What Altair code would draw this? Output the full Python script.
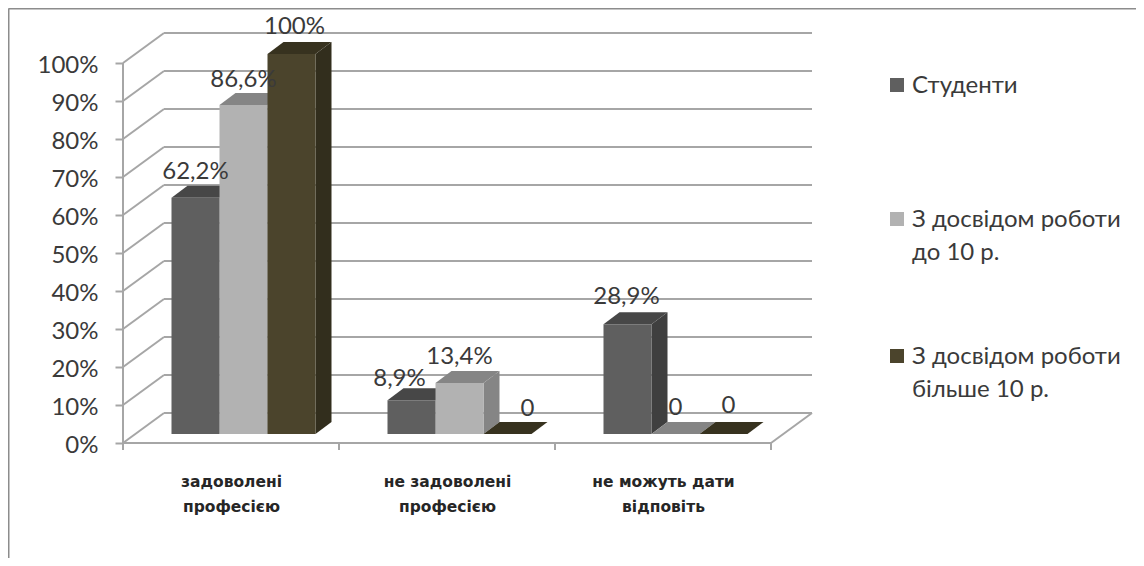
import altair as alt
import pandas as pd

categories = [["задоволені", "професією"], ["не задоволені", "професією"], ["не можуть дати", "відповіть"]]
series_names = ["Студенти", "З досвідом роботи\nдо 10 р.", "З досвідом роботи\nбільше 10 р."]
students = [62.2, 8.9, 28.9]
junior = [86.6, 13.4, 0]
senior = [100, 0, 0]
label_students = ["62,2%", "8,9%", "28,9%"]
label_junior = ["86,6%", "13,4%", "0"]
label_senior = ["100%", "0", "0"]

# palette: front, top, side
palette = [("#5f5f5f", "#474747", "#3f3f3f"), ("#b2b2b2", "#858585", "#858585"), ("#4b442c", "#37321f", "#322e1d")]
GRID = "#a6a6a6"
TXT = "#3a3a3a"
FONT = "Lato"

# layout: pixels per data unit
PX_CAT = 216.0
PX_PCT = 3.8
W, H = 689, 410
PAD = {"left": 115, "top": 25, "right": 324, "bottom": 115}
def cx(px): return px / PX_CAT
def py(px): return px / PX_PCT
WALL_DX, WALL_DY = cx(41), py(30)
BAR_X0, BAR_W = cx(48.5), cx(48)
BAR_BASE = py(9)
BAR_DX, BAR_DY = cx(16), py(12)
# label nudges in pixels (dx, dy above the top of the front face), by category then series
nudges = [[(0, 26), (0, 25), (3, 27)], [(-12, 21), (0, 26), (20, 25)], [(-1, 27), (0, 26), (5, 28)]]

xs = alt.X("x:Q", scale=alt.Scale(domain=[0, W / PX_CAT], nice=False, zero=False), title=None,
           axis=alt.Axis(values=[0.5, 1.5, 2.5], tickSize=0, domain=False, grid=False, labelAngle=0,
                         labelPadding=31, labelFont="DejaVu Sans", labelFontSize=15.5, labelFontWeight="bold",
                         labelColor="#262626", labelLineHeight=25, labelBaseline="top",
                         labelExpr="[" + ",".join(str(c) for c in categories) + "][floor(datum.value)]"))
ys = alt.Y("y:Q", scale=alt.Scale(domain=[0, H / PX_PCT], nice=False, zero=False), title=None,
           axis=alt.Axis(values=list(range(0, 101, 10)), domain=False, grid=False, tickSize=8, tickWidth=2,
                         tickColor=GRID, labelPadding=17, labelFont=FONT, labelFontSize=24, labelColor=TXT,
                         labelOffset=2, labelExpr="datum.value + '%'"))
X2, Y2 = alt.X2("x2:Q"), alt.Y2("y2:Q")

# walls, gridlines, floor
segs = []
for k in range(0, 101, 10):
    segs.append(dict(x=0, x2=WALL_DX, y=k, y2=k + WALL_DY))
    segs.append(dict(x=WALL_DX, x2=3 + WALL_DX, y=k + WALL_DY, y2=k + WALL_DY))
segs.append(dict(x=0, x2=0, y=0, y2=100))
segs.append(dict(x=0, x2=3, y=0, y2=0))
segs.append(dict(x=3, x2=3 + WALL_DX, y=0, y2=WALL_DY))
for c in range(4):
    segs.append(dict(x=c, x2=c, y=0, y2=-py(7)))
wall = alt.Chart(pd.DataFrame(segs)).mark_rule(color=GRID, strokeWidth=2).encode(x=xs, x2=X2, y=ys, y2=Y2)

# outer frame
left_edge, top_edge = -cx(114.5), (H + 24.5) / PX_PCT
frame = alt.Chart(pd.DataFrame([
    dict(x=left_edge, x2=(W + PAD["right"]) / PX_CAT, y=top_edge, y2=top_edge),
    dict(x=left_edge, x2=left_edge, y=top_edge, y2=-py(PAD["bottom"])),
])).mark_rule(color="#8c8c8c", strokeWidth=2).encode(x=xs, x2=X2, y=ys, y2=Y2)

layers = [frame, wall]
values = [students, junior, senior]
texts = [label_students, label_junior, label_senior]
label_rows = []
for s, vals in enumerate(values):
    front, top, side = palette[s]
    fr, tp, sd = [], [], []
    for c, v in enumerate(vals):
        x0 = c + BAR_X0 + s * BAR_W
        x1 = x0 + BAR_W
        b, t = BAR_BASE, BAR_BASE + v
        fr.append(dict(x=x0, x2=x1, y=b, y2=t))
        tp += [dict(id=c, y=t, x=x0, x2=x1), dict(id=c, y=t + BAR_DY, x=x0 + BAR_DX, x2=x1 + BAR_DX)]
        sd += [dict(id=c, x=x1, y=b, y2=t), dict(id=c, x=x1 + BAR_DX, y=b + BAR_DY, y2=t + BAR_DY)]
        dx, dy = nudges[c][s]
        label_rows.append(dict(x=(x0 + x1) / 2 + cx(dx), y=t + py(dy), t=texts[s][c]))
    layers.append(alt.Chart(pd.DataFrame(sd)).mark_area(color=side, orient="vertical")
                  .encode(x=xs, y=ys, y2=Y2, detail="id:N"))
    layers.append(alt.Chart(pd.DataFrame(tp)).mark_area(color=top, orient="horizontal")
                  .encode(y=ys, x=xs, x2=X2, detail="id:N"))
    layers.append(alt.Chart(pd.DataFrame(fr)).mark_rect(color=front).encode(x=xs, x2=X2, y=ys, y2=Y2))

labels = alt.Chart(pd.DataFrame(label_rows)).mark_text(font=FONT, fontSize=24, color=TXT, align="center",
                                                       baseline="middle").encode(x=xs, y=ys, text="t:N")
layers.append(labels)

# legend, drawn as marks
leg_x = (897 - 123) / PX_CAT
txt_x = (912 - 123) / PX_CAT
leg_y = [(443 - 85) / PX_PCT, (443 - 219) / PX_PCT, (443 - 356) / PX_PCT]
leg = pd.DataFrame(dict(x=[leg_x] * 3, y=leg_y, c=[p[0] for p in palette], s=series_names))
layers.append(alt.Chart(leg).mark_square(size=196, opacity=1, filled=True).encode(
    x=xs, y=ys, color=alt.Color("c:N", scale=None, legend=None)))
for i, name in enumerate(series_names):
    layers.append(alt.Chart(pd.DataFrame([dict(x=txt_x, y=leg_y[i], t=name)])).mark_text(
        font=FONT, fontSize=24, color=TXT, align="left", baseline="middle", dy=1,
        lineBreak="\n", lineHeight=33).encode(x=xs, y=ys, text="t:N"))

chart = alt.layer(*layers).properties(
    width=W, height=H,
    padding=PAD,
    autosize=alt.AutoSizeParams(type="none"),
    background="white",
).configure_view(stroke=None)
chart.save("out.html", embed_options={"renderer": "svg", "actions": False})
